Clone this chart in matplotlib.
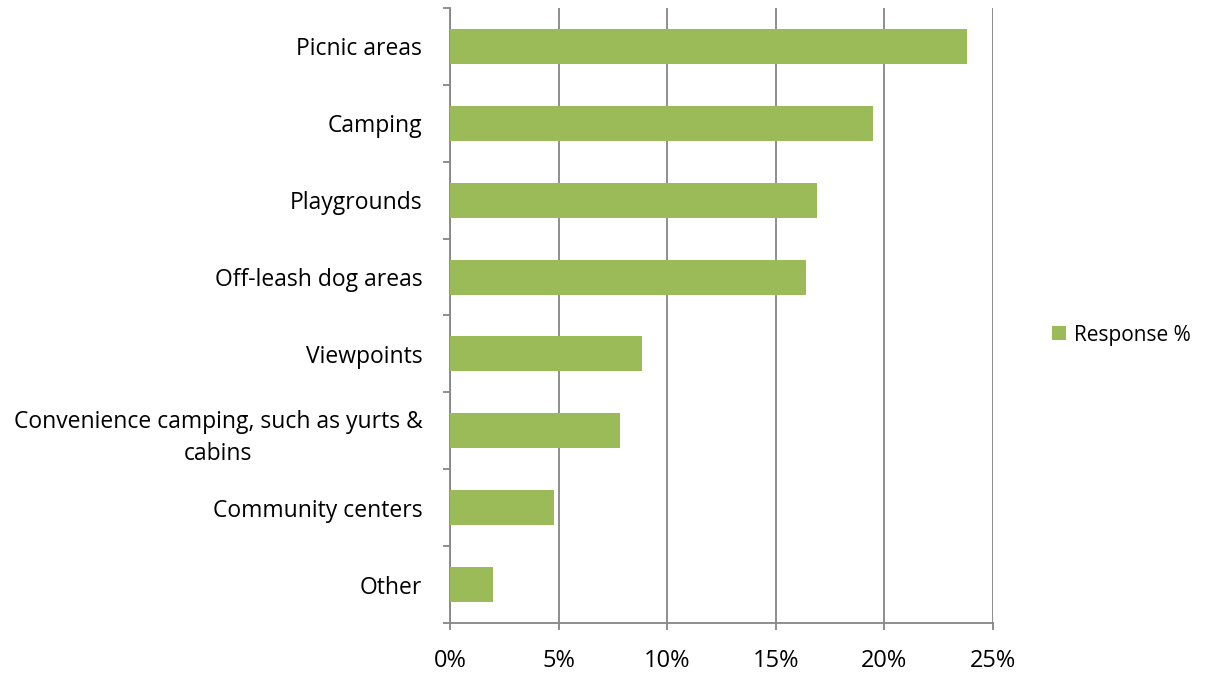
import numpy as np
from matplotlib import pyplot as plt
from matplotlib.ticker import FuncFormatter

# Survey categories (top to bottom) and response share in percent
categories = [
    "Picnic areas",
    "Camping",
    "Playgrounds",
    "Off-leash dog areas",
    "Viewpoints",
    "Convenience camping, such as yurts &\ncabins",
    "Community centers",
    "Other",
]
response_pct = [23.8, 19.5, 16.9, 16.4, 8.85, 7.85, 4.8, 2.0]
x_ticks = [0, 5, 10, 15, 20, 25]

plt.rcParams['font.family'] = ['Open Sans', 'DejaVu Sans']

fig = plt.figure(figsize=(12.17, 6.74), dpi=100)
ax = fig.add_axes([0.3698, 0.0757, 0.446, 0.9125])

y = np.arange(len(categories))[::-1]
ax.barh(y, response_pct, height=0.455, color='#9BBB59', label='Response %', zorder=3)

ax.set_xlim(0, 25)
ax.set_ylim(-0.5, len(categories) - 0.5)
ax.set_xticks(x_ticks)
ax.xaxis.set_major_formatter(FuncFormatter(lambda v, p: f"{v:.0f}%"))
ax.grid(axis='x', color='#868686', linewidth=1.3, zorder=0)

# category labels in the band centres, tick marks on the band edges
ax.set_yticks(y)
ax.set_yticklabels(categories, multialignment='center', linespacing=1.45)
ax.set_yticks(np.arange(-0.5, len(categories)), minor=True)
ax.tick_params(axis='y', which='major', length=0, pad=20, labelsize=16.5)
ax.tick_params(axis='y', which='minor', length=5, width=1.3, color='#868686', direction='out')
ax.tick_params(axis='x', length=5, width=1.3, color='#868686', labelsize=17, pad=14)

for side in ['top', 'right']:
    ax.spines[side].set_visible(False)
for side in ['left', 'bottom']:
    ax.spines[side].set_color('#868686')
    ax.spines[side].set_linewidth(1.3)

ax.legend(loc='center left', bbox_to_anchor=(1.075, 0.468), frameon=False,
          fontsize=15, handlelength=0.65, handleheight=0.65, handletextpad=0.4)

plt.savefig('out.png', dpi=100)
